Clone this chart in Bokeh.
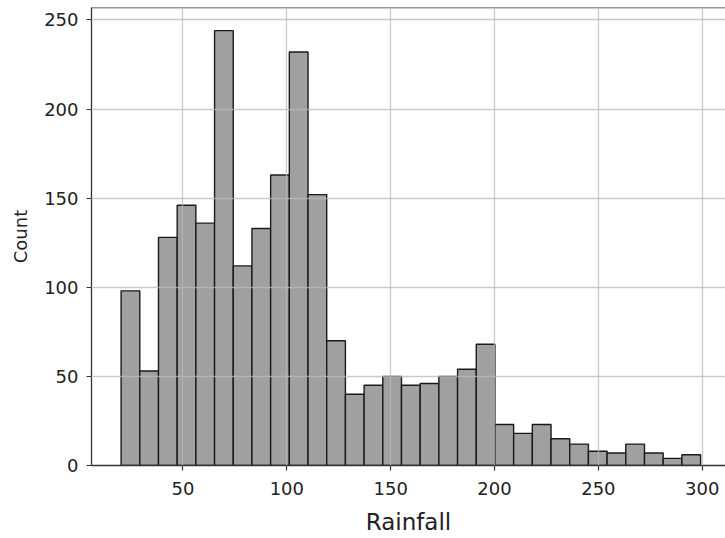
from bokeh.plotting import figure
from bokeh.models import Range1d, FixedTicker, Span, ColumnDataSource
from bokeh.embed import file_html
from bokeh.resources import INLINE

# ---- data ----
bin_start = 20.2
bin_width = 9.0
counts = [98, 53, 128, 146, 136, 244, 112, 133, 163, 232, 152, 70, 40, 45, 50,
          45, 46, 50, 54, 68, 23, 18, 23, 15, 12, 8, 7, 12, 7, 4, 6]
x_ticks = [50, 100, 150, 200, 250, 300]
y_ticks = [0, 50, 100, 150, 200, 250]
x_label = "Rainfall"
y_label = "Count"

lefts = [bin_start + i * bin_width for i in range(len(counts))]
rights = [l + bin_width for l in lefts]
src = ColumnDataSource(dict(left=lefts, right=rights, top=counts))

y_max = 257.0

p = figure(width=725, height=538, output_backend="svg", toolbar_location=None,
           x_range=Range1d(5.95, 311.2), y_range=Range1d(0, y_max),
           min_border_left=91, min_border_right=0, min_border_top=7,
           min_border_bottom=73)

p.quad(left="left", right="right", bottom=0, top="top", source=src,
       fill_color="#a0a0a0", line_color="#1a1a1a", line_width=1.4)

p.outline_line_color = None
p.background_fill_color = "white"
p.border_fill_color = "white"

for g in (p.xgrid, p.ygrid):
    g.grid_line_color = "#b8b8b8"
    g.grid_line_alpha = 0.75
    g.grid_line_width = 1.3
    g.level = "overlay"

p.xaxis.ticker = FixedTicker(ticks=x_ticks)
p.yaxis.ticker = FixedTicker(ticks=y_ticks)
p.xgrid.ticker = FixedTicker(ticks=x_ticks)
p.ygrid.ticker = FixedTicker(ticks=y_ticks)

for ax in (p.xaxis, p.yaxis):
    ax.axis_line_color = "#333333"
    ax.axis_line_width = 1.3
    ax.major_tick_line_color = "#333333"
    ax.major_tick_line_width = 1.2
    ax.major_tick_out = 5
    ax.major_tick_in = 0
    ax.minor_tick_line_color = None
    ax.major_label_text_font = "DejaVu Sans"
    ax.major_label_text_font_size = "18px"
    ax.major_label_text_color = "#222222"
    ax.axis_label_text_font = "DejaVu Sans"
    ax.axis_label_text_font_style = "normal"
    ax.axis_label_text_color = "#222222"

p.xaxis.axis_label = x_label
p.yaxis.axis_label = y_label
p.xaxis.axis_label_text_font_size = "23px"
p.yaxis.axis_label_text_font_size = "18px"
p.xaxis.major_label_standoff = 11
p.yaxis.major_label_standoff = 8
p.xaxis.axis_label_standoff = 11
p.yaxis.axis_label_standoff = 10

top_spine = Span(location=y_max, dimension="width", line_color="#333333",
                 line_width=1.3)
p.add_layout(top_spine)

open("out.html", "w").write(file_html(p, INLINE))
